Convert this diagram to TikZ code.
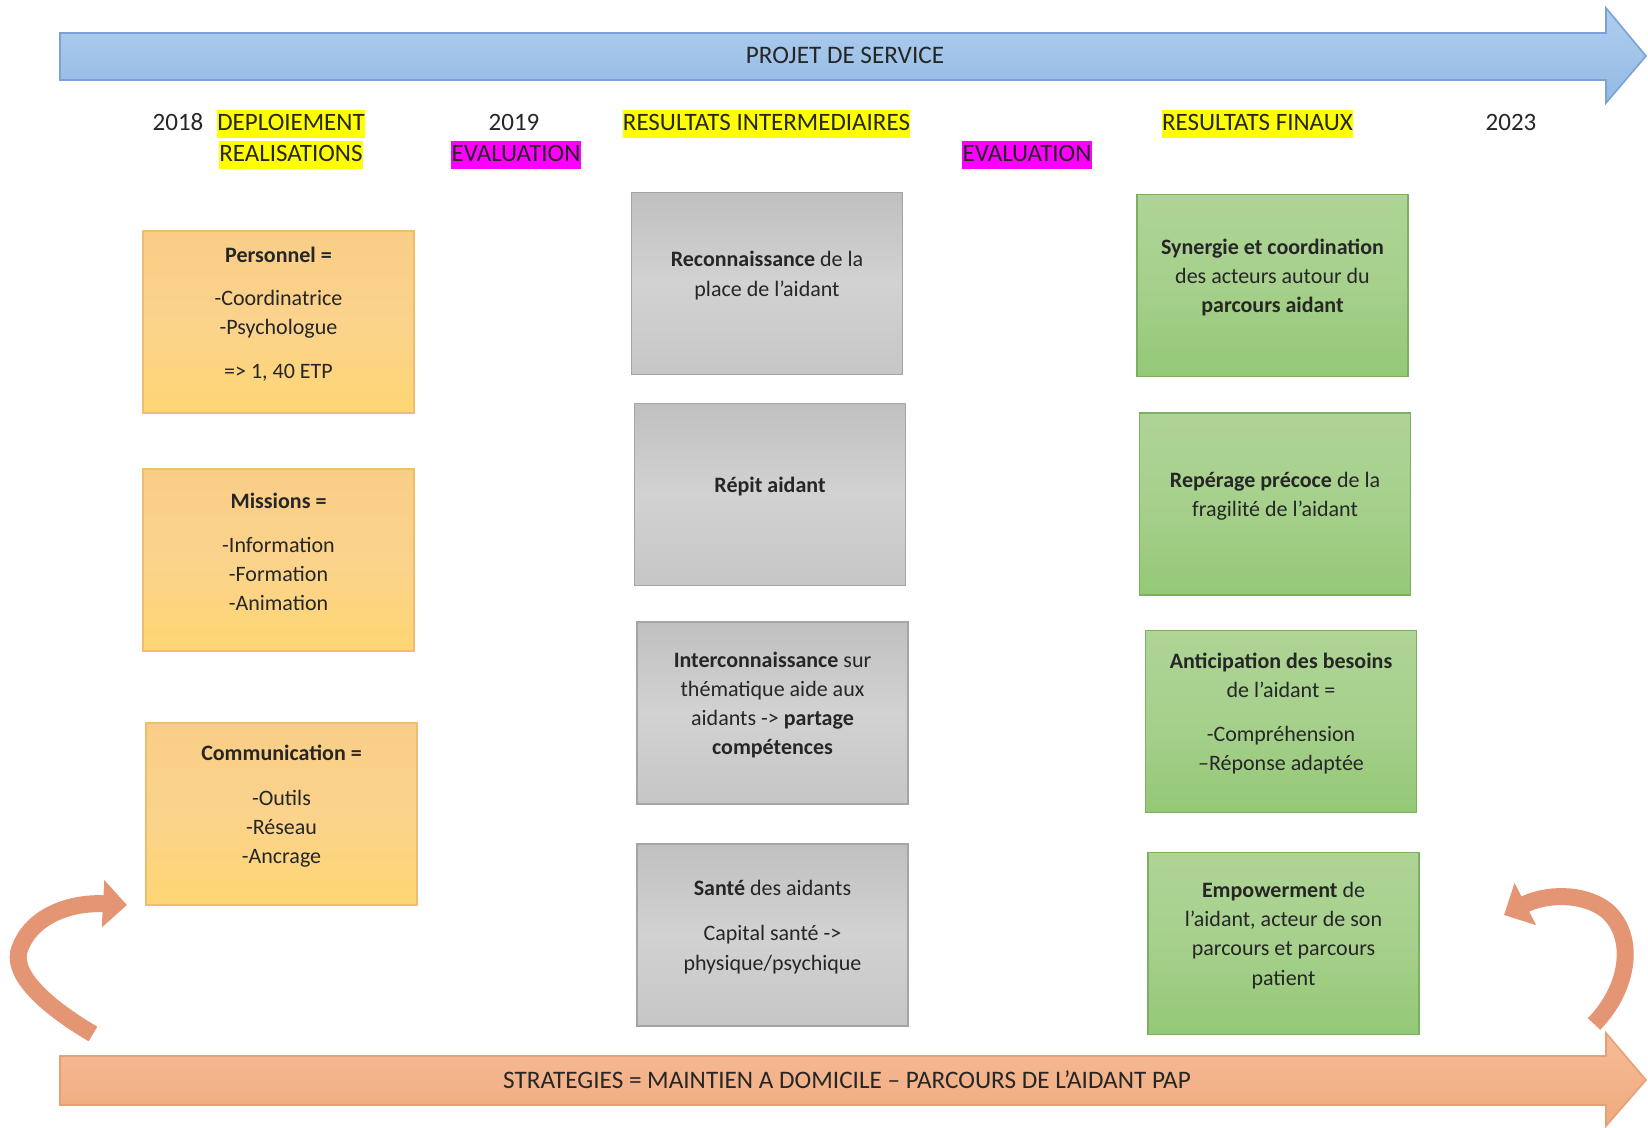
\documentclass[tikz,border=0pt]{standalone}
\usepackage{fontspec}
\setmainfont{Carlito}
\usetikzlibrary{arrows.meta}
\definecolor{ink}{RGB}{38,38,38}
\definecolor{otop}{RGB}{249,205,135}
\definecolor{omid}{RGB}{251,211,140}
\definecolor{obot}{RGB}{254,214,115}
\definecolor{oborder}{RGB}{238,190,110}
\definecolor{gtop}{RGB}{192,192,192}
\definecolor{gmid}{RGB}{210,210,210}
\definecolor{gbot}{RGB}{198,198,198}
\definecolor{gborder}{RGB}{165,165,165}
\definecolor{vtop}{RGB}{174,212,150}
\definecolor{vmid}{RGB}{166,208,140}
\definecolor{vbot}{RGB}{148,200,118}
\definecolor{vborder}{RGB}{122,176,96}
\definecolor{btop}{RGB}{176,206,238}
\definecolor{bbot}{RGB}{146,186,228}
\definecolor{bborder}{RGB}{122,162,214}
\definecolor{stop}{RGB}{246,188,150}
\definecolor{sbot}{RGB}{240,170,126}
\definecolor{sborder}{RGB}{232,158,118}
\definecolor{curv}{RGB}{228,150,116}
\definecolor{hlyellow}{RGB}{255,255,0}
\definecolor{hlmagenta}{RGB}{255,0,255}
\begin{document}
\begin{tikzpicture}[x=0.5pt,y=-0.5pt,
  box/.style={minimum width=135.5pt, minimum height=91pt, inner sep=0pt, line width=0.8pt},
  obox/.style={box, draw=oborder, top color=otop, bottom color=obot, middle color=omid},
  gbox/.style={box, draw=gborder, top color=gtop, bottom color=gbot, middle color=gmid},
  vbox/.style={box, draw=vborder, top color=vtop, bottom color=vbot, middle color=vmid},
  txt/.style={align=center, text=ink, font=\fontsize{11}{14.6}\selectfont, inner sep=0pt, yshift=4pt},
  hdr/.style={text=ink, font=\fontsize{12.5}{14}\selectfont, inner sep=0pt, text height=10.4pt, text depth=3.9pt},
  hly/.style={hdr, fill=hlyellow},
  hlm/.style={hdr, fill=hlmagenta, inner xsep=0.5pt},
  bannertxt/.style={text=ink, font=\fontsize{12.6}{14}\selectfont, inner sep=0pt},
  curved/.style={draw=curv, line width=8.5pt, -{Triangle[width=23pt,length=12pt]}}
]
\useasboundingbox (0,0) rectangle (1648,1128);

% top banner arrow
\path[draw=bborder, line width=0.8pt, top color=btop, bottom color=bbot]
  (60,33) -- (1606,33) -- (1606,8) -- (1646,56) -- (1606,103) -- (1606,80) -- (60,80) -- cycle;
\node[bannertxt] (projet) at (845,55) {PROJET DE SERVICE};

% bottom banner arrow
\path[draw=sborder, line width=0.8pt, top color=stop, bottom color=sbot]
  (60,1056) -- (1606,1056) -- (1606,1033) -- (1646,1080) -- (1606,1126) -- (1606,1105) -- (60,1105) -- cycle;
\node[bannertxt] (strat) at (847,1080) {STRATEGIES = MAINTIEN A DOMICILE – PARCOURS DE L’AIDANT PAP};

% header labels
\node[hdr] (y2018) at (178,124) {2018};
\node[hly] (deploi) at (291,124) {DEPLOIEMENT};
\node[hly] (realis) at (291,155) {REALISATIONS};
\node[hdr] (y2019) at (514,124) {2019};
\node[hlm] (evalA) at (516,155) {EVALUATION};
\node[hly] (resint) at (766.5,124) {RESULTATS INTERMEDIAIRES};
\node[hlm] (evalB) at (1027,155) {EVALUATION};
\node[hly] (resfin) at (1257.5,124) {RESULTATS FINAUX};
\node[hdr] (y2023) at (1511,124) {2023};

% orange column
\node[obox] (pers) at (278.5,322) {};
\node[txt] (perstxt) at (pers.center) {\textbf{Personnel =}\\[7pt]-Coordinatrice\\-Psychologue\\[7pt]=> 1, 40 ETP};
\node[obox] (miss) at (278.5,560) {};
\node[txt] (misstxt) at (miss.center) {\textbf{Missions =}\\[7pt]-Information\\-Formation\\-Animation};
\node[obox] (comm) at (281.5,814) {};
\node[txt] (commtxt) at (comm.center) {\textbf{Communication =}\\[8pt]-Outils\\-Réseau\\-Ancrage};

% grey column
\node[gbox] (reco) at (767,283.5) {};
\node[txt] (recotxt) at (reco.center) {\textbf{Reconnaissance} de la\\place de l’aidant};
\node[gbox] (repit) at (770,494.5) {};
\node[txt] (repittxt) at (repit.center) {\textbf{Répit aidant}};
\node[gbox] (inter) at (772.5,713) {};
\node[txt] (intertxt) at (inter.center) {\textbf{Interconnaissance} sur\\thématique aide aux\\aidants -> \textbf{partage}\\\textbf{compétences}};
\node[gbox] (sante) at (772.5,935) {};
\node[txt] (santetxt) at (sante.center) {\textbf{Santé} des aidants\\[8pt]Capital santé ->\\physique/psychique};

% green column
\node[vbox] (syn) at (1272.5,285.5) {};
\node[txt] (syntxt) at (syn.center) {\textbf{Synergie et coordination}\\des acteurs autour du\\\textbf{parcours aidant}};
\node[vbox] (rep) at (1275,504) {};
\node[txt] (reptxt) at (rep.center) {\textbf{Repérage précoce} de la\\fragilité de l’aidant};
\node[vbox] (anti) at (1281,721.5) {};
\node[txt] (antitxt) at (anti.center) {\textbf{Anticipation des besoins}\\de l’aidant =\\[7pt]-Compréhension\\–Réponse adaptée};
\node[vbox] (emp) at (1283.5,943.5) {};
\node[txt] (emptxt) at (emp.center) {\textbf{Empowerment} de\\l’aidant, acteur de son\\parcours et parcours\\patient};

% curved arrows
\coordinate (lA) at (93,1034);
\coordinate (lB) at (127,905);
\draw[curved] (lA) .. controls (42,1004) and (10,972) .. (20,948)
  .. controls (32,916) and (70,902) .. (lB);
\coordinate (rA) at (1594,1024);
\coordinate (rB) at (1504,915);
\draw[curved] (rA) .. controls (1630,987) and (1636,935) .. (1606,910)
  .. controls (1582,892) and (1545,894) .. (rB);
\end{tikzpicture}
\end{document}
